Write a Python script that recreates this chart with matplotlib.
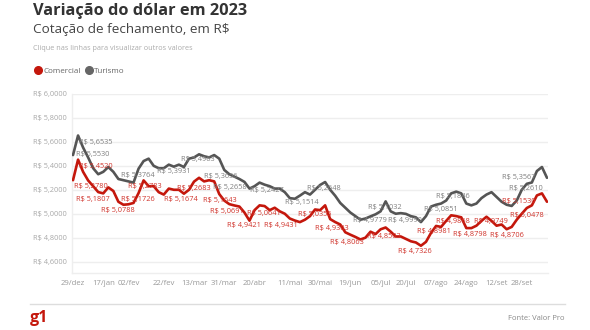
import matplotlib
matplotlib.use("Agg")
import matplotlib.pyplot as plt
from matplotlib.lines import Line2D

plt.rcParams['font.family'] = ['Open Sans', 'DejaVu Sans']

# ---------------- data ----------------
tick_labels = ["29/dez", "17/jan", "02/fev", "22/fev", "13/mar", "31/mar", "20/abr", "11/mai",
               "30/mai", "19/jun", "05/jul", "20/jul", "07/ago", "24/ago", "12/set", "28/set"]
tick_index = [0, 6, 11, 18, 24, 30, 36, 43, 49, 55, 61, 66, 72, 78, 84, 89]

turismo = [5.49, 5.6535, 5.5530, 5.47, 5.38, 5.33, 5.35, 5.39, 5.35, 5.29,
           5.28, 5.27, 5.26, 5.3764, 5.44, 5.46, 5.40, 5.38, 5.38, 5.41,
           5.3931, 5.41, 5.39, 5.46, 5.47, 5.4963, 5.48, 5.47, 5.49, 5.46,
           5.3656, 5.33, 5.31, 5.29, 5.2658, 5.21, 5.23, 5.26, 5.2427, 5.23,
           5.21, 5.21, 5.18, 5.13, 5.125, 5.1514, 5.18, 5.16, 5.20, 5.24,
           5.2648, 5.20, 5.15, 5.09, 5.05, 5.01, 4.98, 4.95, 4.96, 4.9779,
           4.995, 5.02, 5.1032, 5.02, 5.00, 5.005, 4.9990, 4.98, 4.97, 4.93,
           4.98, 5.06, 5.075, 5.0851, 5.11, 5.17, 5.1846, 5.17, 5.085, 5.07,
           5.085, 5.13, 5.16, 5.18, 5.14, 5.10, 5.075, 5.065, 5.11, 5.20,
           5.25, 5.2610, 5.3567, 5.39, 5.30]

comercial = [5.28, 5.4520, 5.35, 5.2780, 5.23, 5.1807, 5.17, 5.22, 5.19, 5.10,
             5.075, 5.0788, 5.09, 5.1726, 5.2783, 5.23, 5.23, 5.18, 5.16, 5.21,
             5.20, 5.20, 5.1674, 5.20, 5.2683, 5.30, 5.27, 5.28, 5.27, 5.1643,
             5.11, 5.08, 5.0691, 5.06, 5.01, 4.9421, 5.03, 5.07, 5.0641, 5.03,
             5.05, 5.02, 5.00, 4.96, 4.9431, 4.93, 4.95, 4.98, 5.0355, 5.03,
             5.07, 4.955, 4.9303, 4.91, 4.845, 4.825, 4.8063, 4.785, 4.80, 4.85,
             4.83, 4.87, 4.885, 4.8503, 4.81, 4.81, 4.79, 4.77, 4.76, 4.7326,
             4.765, 4.84, 4.8981, 4.89, 4.94, 4.9868, 4.98, 4.97, 4.88, 4.8798,
             4.90, 4.94, 4.9749, 4.94, 4.90, 4.91, 4.8706, 4.89, 4.95, 5.00,
             5.0478, 5.07, 5.1530, 5.17, 5.10]

# indices of labelled points
turismo_label_idx = [1, 2, 13, 20, 25, 30, 34, 38, 45, 50, 59, 62, 66, 73, 76, 91, 92]
comercial_label_idx = [1, 3, 5, 11, 13, 14, 22, 24, 29, 32, 35, 38, 44, 48, 52, 56,
                       63, 69, 72, 75, 79, 82, 86, 90, 92]

y_ticks = [4.6, 4.8, 5.0, 5.2, 5.4, 5.6, 5.8, 6.0]

# ---------------- layout (label offsets in pixels) ----------------
turismo_label_off = [(18, -7), (10, -7), (-1, -6.5), (0, -5), (-1, -5.5), (-4, -7), (-15, -6),
                     (2, -6), (2, -7), (-1, -6), (-1, -4), (-1, -6.5), (-1, -7), (0, -6),
                     (-3, -5), (-6, -6.5), (-18, -6)]
comercial_label_off = [(18, -7), (3, -6.5), (-5, -7), (-11, -6.5), (-1, -6.5), (1.5, -6.5),
                       (-3, -6), (0, -6.5), (1, -6.5), (-7, -6.5), (-6, -5), (-1, -7),
                       (-14, -5), (0, -5), (-3, -6.5), (-9, -5.5), (-7, -5), (-6, -6),
                       (-2, -6), (2, -6), (-1, -6), (4, -5), (0, -6), (0, -7), (-18, -6)]

RED = "#c4170c"
GRAY = "#555555"
RED_TXT = "#d0342c"
GRAY_TXT = "#808080"


def fmt(v):
    return "R$ " + f"{v:.4f}".replace(".", ",")


fig = plt.figure(figsize=(5.9, 3.3), dpi=100)
ax = fig.add_axes([72 / 590, 1 - 273 / 330, 476 / 590, 179 / 330])

x = list(range(len(turismo)))
ax.plot(x, turismo, color=GRAY, lw=1.9, solid_joinstyle='round', solid_capstyle='round', zorder=3)
ax.plot(x, comercial, color=RED, lw=1.9, solid_joinstyle='round', solid_capstyle='round', zorder=3)

for idx, off in zip(turismo_label_idx, turismo_label_off):
    ax.annotate(fmt(turismo[idx]), xy=(idx, turismo[idx]), xytext=off,
                textcoords='offset pixels', ha='center', va='center',
                fontsize=5.3, color=GRAY_TXT, zorder=4)
for idx, off in zip(comercial_label_idx, comercial_label_off):
    ax.annotate(fmt(comercial[idx]), xy=(idx, comercial[idx]), xytext=off,
                textcoords='offset pixels', ha='center', va='center',
                fontsize=5.3, color=RED_TXT, zorder=4)

ax.set_xlim(-0.2, len(turismo) - 0.8)
ax.set_ylim(4.505, 6.0)
ax.set_yticks(y_ticks)
ax.set_yticklabels([fmt(v) for v in y_ticks])
ax.set_xticks(tick_index)
ax.set_xticklabels(tick_labels)
ax.tick_params(axis='y', length=0, pad=4, labelsize=5.3, labelcolor="#a8a8a8")
ax.tick_params(axis='x', length=0, pad=5, labelsize=5.6, labelcolor="#999999")
ax.grid(axis='y', color="#eeeeee", lw=1.0, zorder=0)
for s in ['top', 'right']:
    ax.spines[s].set_visible(False)
for s in ['left', 'bottom']:
    ax.spines[s].set_color("#eeeeee")
    ax.spines[s].set_linewidth(1.0)

# titles
fig.text(33 / 590, 1 - 11 / 330, "Variação do dólar em 2023", fontsize=11.8, fontweight='bold',
         color="#333333", ha='left', va='center')
fig.text(33 / 590, 1 - 29 / 330, "Cotação de fechamento, em R$", fontsize=9.7,
         color="#444444", ha='left', va='center')
fig.text(33 / 590, 1 - 48 / 330, "Clique nas linhas para visualizar outros valores", fontsize=5.2,
         color="#aaaaaa", ha='left', va='center')

handles = [Line2D([], [], marker='o', ls='', color=RED, markersize=5.5),
           Line2D([], [], marker='o', ls='', color="#666666", markersize=5.5)]
fig.legend(handles, ["Comercial", "Turismo"], loc='center left',
           bbox_to_anchor=(29 / 590, 1 - 71 / 330), ncol=2, frameon=False,
           handletextpad=0.15, columnspacing=0.6, handlelength=0.9,
           borderpad=0.2, prop={'size': 5.8}, labelcolor="#666666")

# footer
fig.add_artist(Line2D([30 / 590, 565 / 590], [1 - 304 / 330, 1 - 304 / 330],
                      transform=fig.transFigure, color="#dddddd", lw=1.0))
fig.text(30 / 590, 1 - 318 / 330, "g1", fontsize=11.5, fontweight='bold', color=RED,
         ha='left', va='center')
fig.text(565 / 590, 1 - 319 / 330, "Fonte: Valor Pro", fontsize=5.5, color="#888888",
         ha='right', va='center')

fig.savefig("out.png", dpi=100, facecolor="white")
